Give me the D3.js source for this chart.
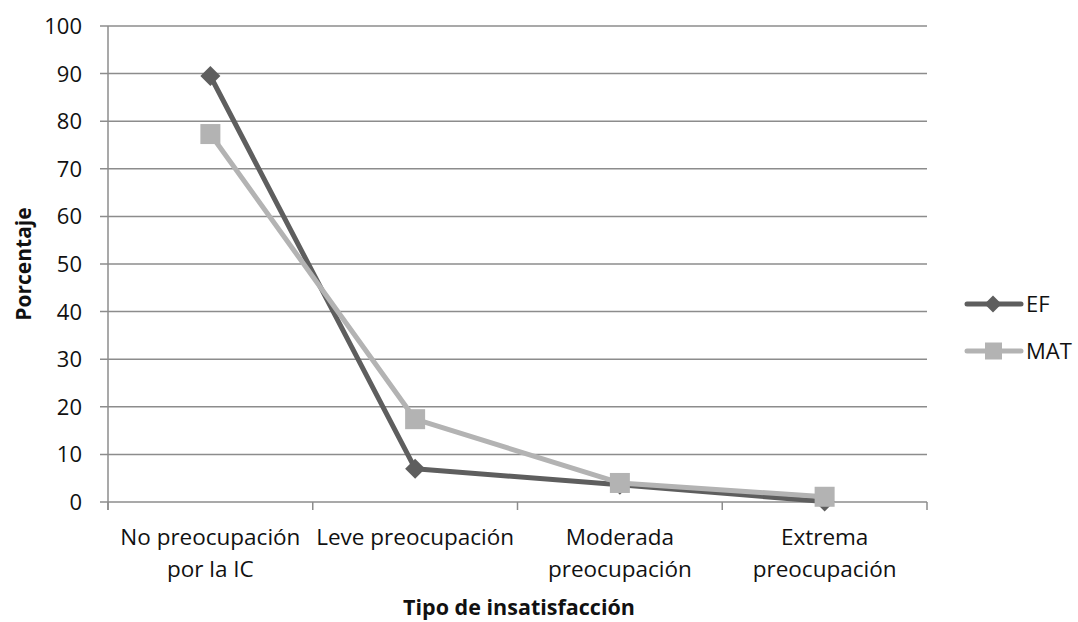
<!DOCTYPE html>
<html><head><meta charset="utf-8">
<script src="https://cdn.jsdelivr.net/npm/d3@7"></script>
<style>body{margin:0;background:#fff}svg{display:block}</style>
</head><body>
<svg id="c" width="1078" height="622"></svg>
<script>
const categories = [["No preocupación","por la IC"],["Leve preocupación"],["Moderada","preocupación"],["Extrema","preocupación"]];
const seriesNames = ["EF","MAT"];
const efValues = [89.5, 7.0, 3.6, 0.1];
const matValues = [77.3, 17.4, 4.0, 1.1];
const yTicks = [0,10,20,30,40,50,60,70,80,90,100];
const yTitle = "Porcentaje";
const xTitle = "Tipo de insatisfacción";

const FONT = "'Open Sans', sans-serif";
const svg = d3.select("#c");
const m = {l:108, r:927, t:26, b:502};
const x = d3.scaleBand().domain(d3.range(categories.length)).range([m.l, m.r]);
const y = d3.scaleLinear().domain([0,100]).range([m.b, m.t]);
const gridC = "#8c8c8c";

svg.append("g").selectAll("line").data(yTicks).join("line")
  .attr("x1", m.l-8).attr("x2", m.r).attr("y1", d=>y(d)).attr("y2", d=>y(d))
  .attr("stroke", gridC).attr("stroke-width", 1.5);
svg.append("line").attr("x1", m.l).attr("x2", m.l).attr("y1", m.t).attr("y2", m.b+8)
  .attr("stroke", gridC).attr("stroke-width", 1.5);
const xt = d3.range(categories.length+1).map(i => i<categories.length ? x(i) : m.r);
svg.append("g").selectAll("line").data(xt).join("line")
  .attr("x1", d=>d).attr("x2", d=>d).attr("y1", m.b).attr("y2", m.b+8)
  .attr("stroke", gridC).attr("stroke-width", 1.5);
svg.append("g").selectAll("text").data(yTicks).join("text")
  .attr("x", 82).attr("y", d=>y(d)).attr("dy","0.36em").attr("text-anchor","end")
  .attr("font-family", FONT).attr("font-size", 22).attr("fill","#111").text(d=>d);
const xl = svg.append("g").selectAll("text").data(categories).join("text")
  .attr("text-anchor","middle").attr("font-family", FONT).attr("font-size", 22.5).attr("fill","#111");
xl.each(function(d,i){
  const t = d3.select(this);
  d.forEach((line,j)=>{
    t.append("tspan").attr("x", x(i)+x.bandwidth()/2).attr("y", 545 + j*32).text(line);
  });
});
svg.append("text").attr("transform","translate(31,264) rotate(-90)").attr("text-anchor","middle")
  .attr("font-family", FONT).attr("font-weight","bold").attr("font-size", 21).attr("fill","#111").text(yTitle);
svg.append("text").attr("x", 519).attr("y", 615).attr("text-anchor","middle")
  .attr("font-family", FONT).attr("font-weight","bold").attr("font-size", 21.5).attr("fill","#111").text(xTitle);

const cx = i => x(i)+x.bandwidth()/2;
const line = d3.line().x((d,i)=>cx(i)).y(d=>y(d));
const efC = "#5e5e5e", matC = "#b3b3b3";
const diamond = d3.symbol().type(d3.symbolSquare).size(200);
const diamondL = d3.symbol().type(d3.symbolSquare).size(145);

svg.append("path").datum(efValues).attr("d", line).attr("fill","none").attr("stroke", efC).attr("stroke-width", 5).attr("stroke-linejoin","round");
svg.append("g").selectAll("path").data(efValues).join("path")
  .attr("d", diamond).attr("transform",(d,i)=>`translate(${cx(i)},${y(d)}) rotate(45)`).attr("fill", efC);
svg.append("path").datum(matValues).attr("d", line).attr("fill","none").attr("stroke", matC).attr("stroke-width", 5).attr("stroke-linejoin","round");
svg.append("g").selectAll("rect").data(matValues).join("rect")
  .attr("x",(d,i)=>cx(i)-10).attr("y", d=>y(d)-10).attr("width",20).attr("height",20).attr("fill", matC);

const lg = svg.append("g");
[[efC,"EF",304,"d"],[matC,"MAT",351,"s"]].forEach(([c,t,ly,k])=>{
  lg.append("line").attr("x1",967).attr("x2",1021).attr("y1",ly).attr("y2",ly).attr("stroke",c).attr("stroke-width",5).attr("stroke-linecap","round");
  if(k==="d") lg.append("path").attr("d",diamondL).attr("transform",`translate(993,${ly}) rotate(45)`).attr("fill",c);
  else lg.append("rect").attr("x",985).attr("y",ly-8.5).attr("width",17).attr("height",17).attr("fill",c);
  lg.append("text").attr("x",1026).attr("y",ly).attr("dy","0.36em").attr("font-family",FONT).attr("font-size",22).attr("fill","#111").text(t);
});
</script>
</body></html>
